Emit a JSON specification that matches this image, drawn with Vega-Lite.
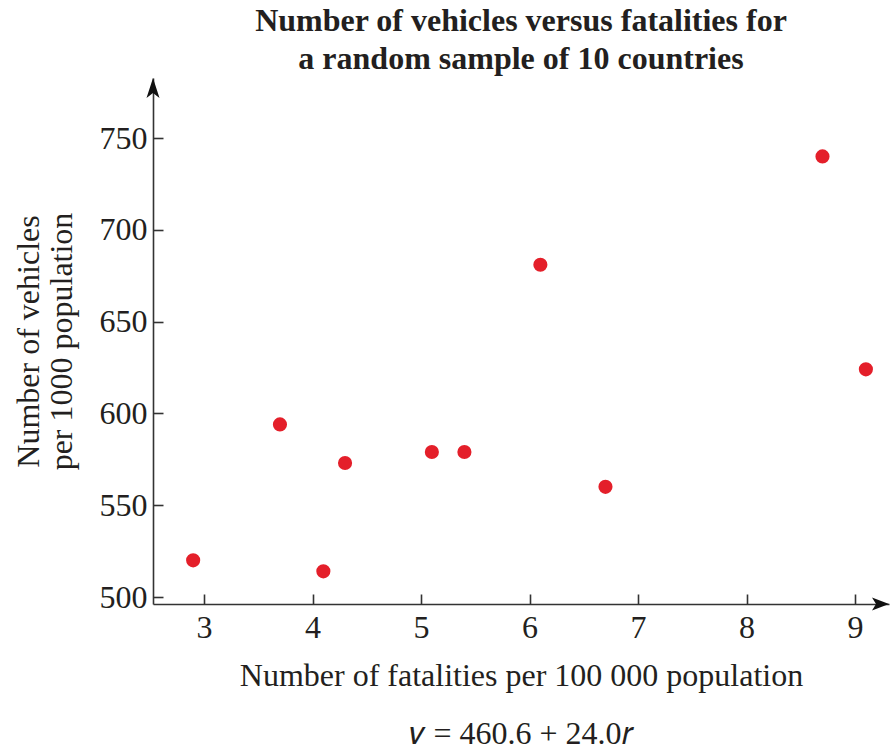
{
  "$schema": "https://vega.github.io/schema/vega-lite/v6.json",
  "width": 736,
  "height": 526,
  "autosize": {"type": "none"},
  "padding": {"left": 153, "top": 78, "right": 2, "bottom": 148},
  "background": "white",
  "title": {
    "text": ["Number of vehicles versus fatalities for", "a random sample of 10 countries"],
    "font": "Liberation Serif",
    "fontSize": 32,
    "fontWeight": "bold",
    "color": "#231f20",
    "lineHeight": 38,
    "anchor": "middle",
    "frame": "group",
    "offset": 2
  },
  "config": {
    "view": {"stroke": null},
    "axis": {
      "labelFont": "Liberation Serif",
      "titleFont": "Liberation Serif",
      "labelFontSize": 32,
      "titleFontSize": 32,
      "labelColor": "#231f20",
      "titleColor": "#231f20",
      "titleFontWeight": "normal",
      "domainColor": "#333333",
      "domainWidth": 1.6,
      "tickColor": "#333333",
      "tickWidth": 1.6,
      "tickSize": -10,
      "grid": false
    }
  },
  "layer": [
    {
      "data": {
        "values": [
          {"fatalities": 2.9, "vehicles": 520},
          {"fatalities": 3.7, "vehicles": 594},
          {"fatalities": 4.1, "vehicles": 514},
          {"fatalities": 4.3, "vehicles": 573},
          {"fatalities": 5.1, "vehicles": 579},
          {"fatalities": 5.4, "vehicles": 579},
          {"fatalities": 6.1, "vehicles": 681},
          {"fatalities": 6.7, "vehicles": 560},
          {"fatalities": 8.7, "vehicles": 740},
          {"fatalities": 9.1, "vehicles": 624}
        ]
      },
      "mark": {"type": "point", "filled": true, "size": 200, "color": "#e41f2a", "opacity": 1},
      "encoding": {
        "x": {
          "field": "fatalities",
          "type": "quantitative",
          "scale": {"domain": [2.53, 9.313], "nice": false, "zero": false},
          "axis": {
            "values": [3, 4, 5, 6, 7, 8, 9],
            "format": "d",
            "labelPadding": 18,
            "title": ["Number of fatalities per 100 000 population", "𝑣 = 460.6 + 24.0𝑟"],
            "titleLineHeight": 58,
            "titlePadding": 17
          }
        },
        "y": {
          "field": "vehicles",
          "type": "quantitative",
          "scale": {"domain": [496.2, 782.7], "nice": false, "zero": false},
          "axis": {
            "values": [500, 550, 600, 650, 700, 750],
            "format": "d",
            "labelPadding": 16,
            "title": ["Number of vehicles", "per 1000 population"],
            "titleLineHeight": 33,
            "titlePadding": 21
          }
        }
      }
    },
    {
      "data": {"values": [{}]},
      "mark": {"type": "point", "filled": true, "size": 100, "color": "#111111", "opacity": 1, "shape": "M0,0L1.3,4L0,3L-1.3,4Z"},
      "encoding": {
        "x": {"datum": 2.53, "type": "quantitative"},
        "y": {"datum": 782.7, "type": "quantitative"}
      }
    },
    {
      "data": {"values": [{}]},
      "mark": {"type": "point", "filled": true, "size": 100, "color": "#111111", "opacity": 1, "shape": "M0,0L-3.4,-1.3L-2.6,0L-3.4,1.3Z"},
      "encoding": {
        "x": {"datum": 9.313, "type": "quantitative"},
        "y": {"datum": 496.2, "type": "quantitative"}
      }
    }
  ]
}
